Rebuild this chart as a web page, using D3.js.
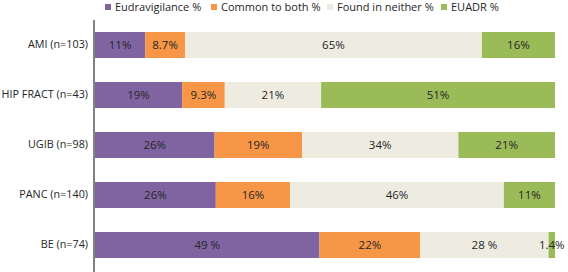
<!DOCTYPE html>
<html>
<head>
<meta charset="utf-8">
<script src="https://cdn.jsdelivr.net/npm/d3@7"></script>
<style>
  body { margin: 0; background: #fff; }
  svg { display: block; font-family: "Open Sans", sans-serif; }
</style>
</head>
<body>
<div id="chart"></div>
<script>
// categories top to bottom
const categories = ["AMI (n=103)", "HIP FRACT (n=43)", "UGIB (n=98)", "PANC (n=140)", "BE (n=74)"];
const seriesNames = ["Eudravigilance %", "Common to both %", "Found in neither %", "EUADR %"];
const seriesColors = ["#8064A2", "#F79646", "#EEECE1", "#9BBB59"];

// values per series (same order as categories)
const eudravigilance = [11, 19, 26, 26, 49];
const commonBoth = [8.7, 9.3, 19, 16, 22];
const foundNeither = [65, 21, 34, 46, 28];
const euadr = [16, 51, 21, 11, 1.4];

// labels as printed on the bars
const eudraLabels = ["11%", "19%", "26%", "26%", "49 %"];
const commonLabels = ["8.7%", "9.3%", "19%", "16%", "22%"];
const neitherLabels = ["65%", "21%", "34%", "46%", "28 %"];
const euadrLabels = ["16%", "51%", "21%", "11%", "1.4%"];

const w = 568, h = 272;
const margin = {top: 20, right: 13, bottom: 2, left: 95};

const svg = d3.select("#chart").append("svg")
  .attr("width", w).attr("height", h);

const allValues = [eudravigilance, commonBoth, foundNeither, euadr];
const allLabels = [eudraLabels, commonLabels, neitherLabels, euadrLabels];

// build rows, normalised to 100% (100% stacked bar)
const rows = categories.map((c, i) => {
  const row = {cat: c};
  let total = 0;
  allValues.forEach(v => total += v[i]);
  seriesNames.forEach((s, j) => { row[s] = allValues[j][i] / total * 100; });
  return row;
});

const stack = d3.stack().keys(seriesNames)(rows);

const x = d3.scaleLinear().domain([0, 100]).range([margin.left, w - margin.right]);
const y = d3.scaleBand().domain(categories)
  .range([margin.top, h - margin.bottom]).paddingInner(0.48).paddingOuter(0.24);

const g = svg.append("g");

stack.forEach((layer, j) => {
  const lg = g.append("g");
  lg.selectAll("rect")
    .data(layer)
    .enter().append("rect")
    .attr("x", d => x(d[0]))
    .attr("y", d => y(d.data.cat))
    .attr("width", d => x(d[1]) - x(d[0]))
    .attr("height", y.bandwidth())
    .style("fill", seriesColors[j]);

  lg.selectAll("text")
    .data(layer)
    .enter().append("text")
    .attr("x", d => (x(d[0]) + x(d[1])) / 2)
    .attr("y", d => y(d.data.cat) + y.bandwidth() / 2)
    .attr("dy", "0.35em")
    .attr("text-anchor", "middle")
    .style("font-size", "11.5px")
    .style("fill", "#262626")
    .text((d, i) => allLabels[j][i]);
});

// left axis (labels only, line drawn separately)
const yAxis = d3.axisLeft(y).tickSize(0).tickPadding(6);
const ax = svg.append("g")
  .attr("transform", "translate(" + (margin.left - 1) + ",0)")
  .call(yAxis);
ax.select(".domain").remove();
ax.selectAll("text").style("font-size", "10.8px").style("fill", "#262626")
  .style("font-family", "Open Sans, sans-serif");
svg.append("line")
  .attr("x1", margin.left - 1).attr("x2", margin.left - 1)
  .attr("y1", margin.top).attr("y2", h)
  .attr("stroke", "#595959").attr("stroke-width", 1.5);

// legend
const legendX = [105, 211, 327, 441];
const legend = svg.append("g");
seriesNames.forEach((s, j) => {
  legend.append("rect")
    .attr("x", legendX[j]).attr("y", 4)
    .attr("width", 6).attr("height", 6)
    .style("fill", seriesColors[j]);
  legend.append("text")
    .attr("x", legendX[j] + 10).attr("y", 7)
    .attr("dy", "0.35em")
    .style("font-size", "11px")
    .style("fill", "#262626")
    .text(s);
});
</script>
</body>
</html>
